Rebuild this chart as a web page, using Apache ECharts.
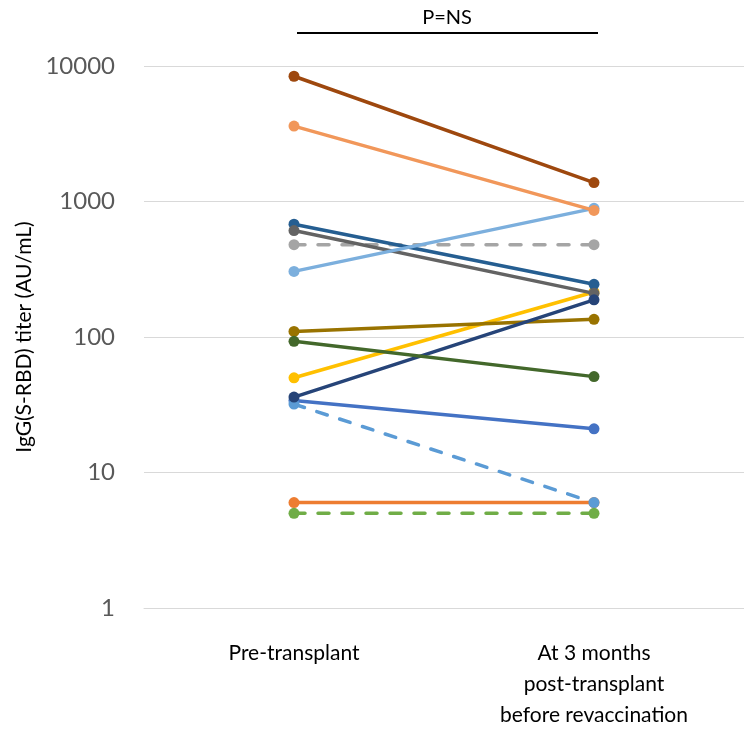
<!DOCTYPE html>
<html>
<head>
<meta charset="utf-8">
<script src="https://cdn.jsdelivr.net/npm/echarts@6/dist/echarts.min.js"></script>
<style>html,body{margin:0;padding:0;background:#fff}#c{width:744px;height:731px}</style>
</head>
<body>
<div id="c"></div>
<script>
const categories = ['Pre-transplant', 'At 3 months\npost-transplant\nbefore revaccination'];
const yTicks = [1, 10, 100, 1000, 10000];
const s1 = [34, 21];
const s2 = [6, 6];
const s3 = [480, 480];
const s4 = [50, 215];
const s5 = [32, 6];
const s6 = [5, 5];
const s7 = [680, 245];
const s8 = [8400, 1380];
const s9 = [610, 210];
const s10 = [110, 135];
const s11 = [36, 188];
const s12 = [93, 51];
const s13 = [305, 890];
const s14 = [3600, 860];
const seriesData = [s1, s2, s3, s4, s5, s6, s7, s8, s9, s10, s11, s12, s13, s14];
const colors = ['#4472C4', '#ED7D31', '#A5A5A5', '#FFC000', '#5B9BD5', '#70AD47', '#255E91', '#9E480E', '#636363', '#997300', '#264478', '#43682B', '#7CAFDD', '#F1975A'];
const dashed = [false, false, true, false, true, true, false, false, false, false, false, false, false, false];
const annotation = 'P=NS';

const chart = echarts.init(document.getElementById('c'));
const FONT = 'Lato';
chart.setOption({
  animation: false,
  backgroundColor: '#ffffff',
  grid: { left: 144, right: -4, top: 66, bottom: 112, containLabel: false },
  xAxis: {
    type: 'category',
    data: categories,
    boundaryGap: true,
    axisLine: { show: true, lineStyle: { color: '#D9D9D9', width: 1 } },
    axisTick: { show: false },
    axisLabel: { interval: 0, color: '#000', fontFamily: FONT, fontSize: 21, lineHeight: 31, margin: 30 }
  },
  yAxis: {
    type: 'log',
    logBase: 10,
    min: 1,
    max: 10000,
    axisLine: { show: false },
    axisTick: { show: false },
    splitLine: { show: true, lineStyle: { color: '#D9D9D9', width: 1 } },
    axisLabel: { color: '#595959', fontFamily: FONT, fontSize: 24, margin: 29,
      formatter: v => (yTicks.includes(Math.round(v)) ? String(Math.round(v)) : '') },
    name: 'IgG(S-RBD) titer (AU/mL)',
    nameLocation: 'middle',
    nameGap: 104,
    nameRotate: 90,
    nameTextStyle: { color: '#000', fontFamily: FONT, fontSize: 21 }
  },
  series: seriesData.map((d, i) => ({
    type: 'line',
    data: d,
    symbol: 'circle',
    symbolSize: 11,
    showSymbol: true,
    color: colors[i],
    itemStyle: { color: colors[i] },
    lineStyle: { color: colors[i], width: 3.5, type: dashed[i] ? [11, 13] : 'solid', cap: 'round' },
    z: 2 + i,
    silent: true
  })),
  graphic: [
    { type: 'text', x: 447, y: 8, style: { text: annotation, fill: '#000', font: '20px Lato', textAlign: 'center' } },
    { type: 'line', shape: { x1: 297, y1: 33, x2: 598, y2: 33 }, style: { stroke: '#000', lineWidth: 2 } }
  ]
});
</script>
</body>
</html>
